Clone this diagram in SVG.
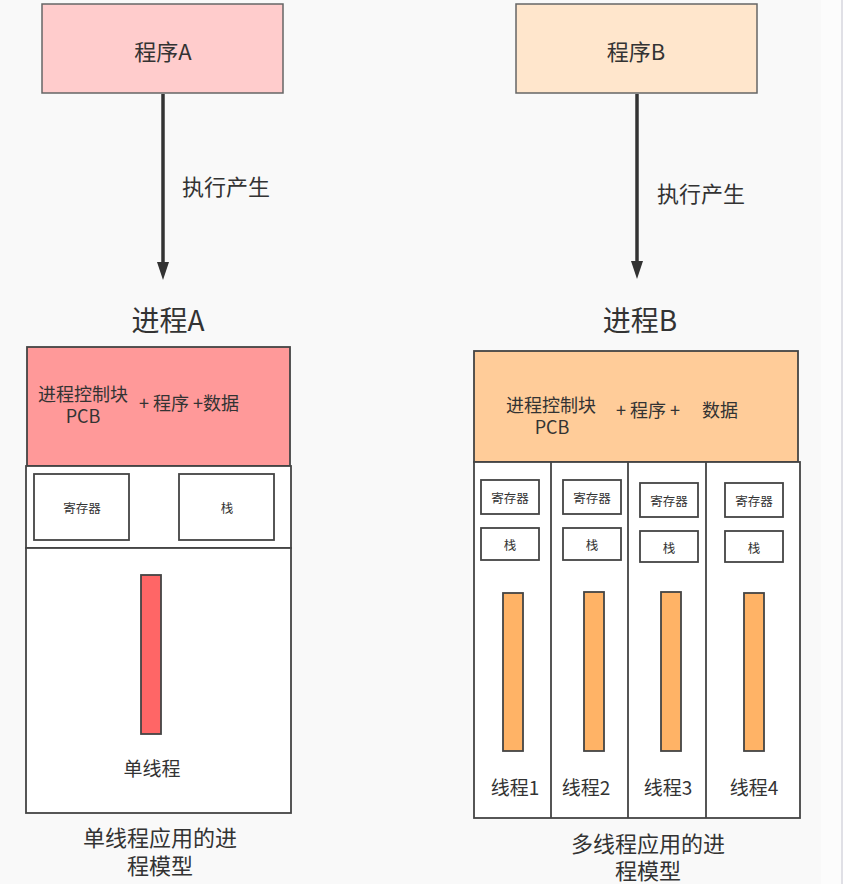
<svg xmlns="http://www.w3.org/2000/svg" width="843" height="884" viewBox="0 0 843 884">
<defs>
<style>
text{font-family:"Microsoft YaHei","Noto Sans CJK SC","Noto Sans",sans-serif;fill:#333;text-anchor:middle;dominant-baseline:central}
.box{stroke:#444;stroke-width:1.8}
.top{stroke:#666;stroke-width:1.5}
.w{fill:#fff}
.conn{stroke:#333;stroke-width:3.5;fill:none}
</style>
</defs>
<rect width="843" height="884" fill="#fcfcfc"/>
<rect width="821" height="884" fill="#f9f9f9"/>
<rect x="841" y="0" width="2" height="884" fill="#e0e0e6"/>

<g id="progA">
<rect class="top" x="42" y="4" width="241" height="89" fill="#ffcccc"/>
<text x="163" y="50" font-size="22">程序A</text>
</g>
<g id="progB">
<rect class="top" x="516" y="4" width="241" height="89" fill="#ffe6cc"/>
<text x="636" y="50" font-size="22">程序B</text>
</g>

<g id="connectors">
<path class="conn" d="M163,94 V262"/>
<path d="M157,262 L169,262 L163,280 Z" fill="#333"/>
<path class="conn" d="M637,94 V261"/>
<path d="M631,261 L643,261 L637,279 Z" fill="#333"/>
<text x="226" y="185" font-size="22">执行产生</text>
<text x="701" y="192" font-size="22">执行产生</text>
</g>

<g id="titleA"><text x="168" y="319" font-size="28">进程A</text></g>
<g id="titleB"><text x="640" y="319" font-size="28">进程B</text></g>

<g id="processA">
<rect class="box" x="27" y="347" width="263" height="119" fill="#ff9999"/>
<text x="83" y="393" font-size="18">进程控制块</text>
<text x="83" y="415" font-size="18">PCB</text>
<text x="189" y="402" font-size="18">+ 程序 +数据</text>
<rect class="box w" x="26" y="466" width="265" height="82"/>
<rect class="box w" x="34" y="474" width="95" height="66"/>
<text x="82" y="507" font-size="12.5">寄存器</text>
<rect class="box w" x="179" y="474" width="95" height="66"/>
<text x="227" y="507" font-size="12.5">栈</text>
<rect class="box w" x="26" y="548" width="265" height="265"/>
<rect class="box" x="141" y="575" width="20" height="159" fill="#ff6666"/>
<text x="152" y="767" font-size="19">单线程</text>
</g>
<g id="captionA">
<text x="160" y="836" font-size="22">单线程应用的进</text>
<text x="160" y="864" font-size="22">程模型</text>
</g>

<g id="processB">
<rect class="box" x="474" y="351" width="324" height="111" fill="#ffcc99"/>
<text x="551" y="404" font-size="18">进程控制块</text>
<text x="552" y="426" font-size="18">PCB</text>
<text x="648" y="409" font-size="18">+ 程序 +</text>
<text x="720" y="409" font-size="18">数据</text>
<rect class="box w" x="474" y="462" width="326" height="356"/>
<path class="box" d="M551,462 V818 M628,462 V818 M706,462 V818" fill="none"/>
</g>
<g id="thread1">
<rect class="box w" x="481" y="480" width="58" height="34"/>
<text x="510" y="497" font-size="12.5">寄存器</text>
<rect class="box w" x="481" y="528" width="58" height="32"/>
<text x="510" y="544" font-size="12.5">栈</text>
<rect class="box" x="503" y="593" width="20" height="158" fill="#ffb366"/>
<text x="515" y="786" font-size="19">线程1</text>
</g>
<g id="thread2">
<rect class="box w" x="563" y="480" width="58" height="34"/>
<text x="592" y="497" font-size="12.5">寄存器</text>
<rect class="box w" x="563" y="528" width="58" height="32"/>
<text x="592" y="544" font-size="12.5">栈</text>
<rect class="box" x="584" y="592" width="20" height="159" fill="#ffb366"/>
<text x="586" y="786" font-size="19">线程2</text>
</g>
<g id="thread3">
<rect class="box w" x="640" y="483" width="58" height="34"/>
<text x="669" y="500" font-size="12.5">寄存器</text>
<rect class="box w" x="640" y="531" width="58" height="31"/>
<text x="669" y="547" font-size="12.5">栈</text>
<rect class="box" x="661" y="592" width="20" height="159" fill="#ffb366"/>
<text x="668" y="786" font-size="19">线程3</text>
</g>
<g id="thread4">
<rect class="box w" x="725" y="483" width="58" height="34"/>
<text x="754" y="500" font-size="12.5">寄存器</text>
<rect class="box w" x="725" y="531" width="58" height="31"/>
<text x="754" y="547" font-size="12.5">栈</text>
<rect class="box" x="744" y="593" width="20" height="158" fill="#ffb366"/>
<text x="754" y="786" font-size="19">线程4</text>
</g>
<g id="captionB">
<text x="648" y="842" font-size="22">多线程应用的进</text>
<text x="648" y="869" font-size="22">程模型</text>
</g>
</svg>
